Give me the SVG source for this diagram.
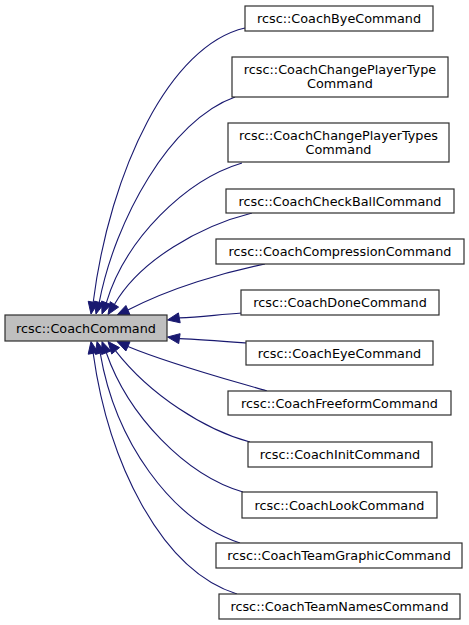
<svg xmlns="http://www.w3.org/2000/svg" width="469" height="625" viewBox="0 0 469 625">
<style>
.n rect{fill:#ffffff;stroke:#2e2e2e;stroke-width:1.2}
.n.p rect{fill:#bfbfbf}
.n text{font-family:"DejaVu Sans",sans-serif;font-size:12.8px;fill:#000000;text-anchor:middle}
.e path{fill:none;stroke:#191970;stroke-width:1.1}
.e polygon{fill:#191970;stroke:#191970;stroke-width:1}
</style>
<rect width="469" height="625" fill="#ffffff"/>
<g id="connectors" class="e">
<path d="M245,28 C170,45 110,170 93.2,302.2"/><polygon points="91,314 98.1,303.1 88.2,301.3"/>
<path d="M235,97 C170,120 115,220 99.2,302.4"/><polygon points="96,314 104,303.7 94.4,301.1"/>
<path d="M242,163 C185,180 125,240 106.3,302.8"/><polygon points="102,314 111,304.6 101.6,301"/>
<path d="M252,213 C200,226 140,260 114.4,304.4"/><polygon points="108,314.5 118.6,307.1 110.2,301.7"/>
<path d="M265,264 C225,272 170,288 127.9,310.1"/><polygon points="117,315 130,314.7 125.9,305.5"/>
<path d="M242,313 C215,315 200,317 179.3,317.9"/><polygon points="167.5,320 180.2,322.8 178.4,312.9"/>
<path d="M247,343 C220,341 200,339.5 179.4,338.6"/><polygon points="167.5,337 178.7,343.6 180.1,333.7"/>
<path d="M267,391 C230,380 170,364 127.9,346.4"/><polygon points="117,341.5 130,341.8 125.9,351"/>
<path d="M250,442 C205,430 150,395 115.6,350.8"/><polygon points="108,341.5 119.5,347.6 111.7,354"/>
<path d="M243,492 C185,475 128,415 106.3,352.7"/><polygon points="102,341.5 111,350.9 101.6,354.5"/>
<path d="M240,543 C170,520 115,440 100.2,353.1"/><polygon points="97,341.5 105,351.8 95.4,354.4"/>
<path d="M237,594 C160,570 108,460 93.2,353.3"/><polygon points="91,341.5 98.1,352.4 88.2,354.2"/>
</g>
<g id="CoachCommand" class="n p"><rect x="5" y="315" width="162" height="26"/><text x="86" y="332.5">rcsc::CoachCommand</text></g>
<g id="CoachByeCommand" class="n"><rect x="245" y="6" width="188" height="25"/><text x="339" y="23">rcsc::CoachByeCommand</text></g>
<g id="CoachChangePlayerTypeCommand" class="n"><rect x="232" y="57" width="216" height="40"/><text x="340" y="74">rcsc::CoachChangePlayerType</text><text x="340" y="88">Command</text></g>
<g id="CoachChangePlayerTypesCommand" class="n"><rect x="228" y="123" width="221" height="39"/><text x="338.5" y="140">rcsc::CoachChangePlayerTypes</text><text x="338.5" y="154">Command</text></g>
<g id="CoachCheckBallCommand" class="n"><rect x="226" y="189" width="228" height="24"/><text x="340" y="205.5">rcsc::CoachCheckBallCommand</text></g>
<g id="CoachCompressionCommand" class="n"><rect x="216" y="239" width="248" height="25"/><text x="340" y="256">rcsc::CoachCompressionCommand</text></g>
<g id="CoachDoneCommand" class="n"><rect x="241" y="290" width="198" height="25"/><text x="340" y="307">rcsc::CoachDoneCommand</text></g>
<g id="CoachEyeCommand" class="n"><rect x="246" y="341" width="187" height="24"/><text x="339.5" y="357.5">rcsc::CoachEyeCommand</text></g>
<g id="CoachFreeformCommand" class="n"><rect x="228" y="391" width="223" height="24"/><text x="339.5" y="407.5">rcsc::CoachFreeformCommand</text></g>
<g id="CoachInitCommand" class="n"><rect x="248" y="442" width="184" height="25"/><text x="340" y="459">rcsc::CoachInitCommand</text></g>
<g id="CoachLookCommand" class="n"><rect x="242" y="492" width="195" height="26"/><text x="339.5" y="509.5">rcsc::CoachLookCommand</text></g>
<g id="CoachTeamGraphicCommand" class="n"><rect x="216" y="543" width="246" height="25"/><text x="339" y="560">rcsc::CoachTeamGraphicCommand</text></g>
<g id="CoachTeamNamesCommand" class="n"><rect x="219" y="594" width="241" height="25"/><text x="339.5" y="611">rcsc::CoachTeamNamesCommand</text></g>
</svg>
